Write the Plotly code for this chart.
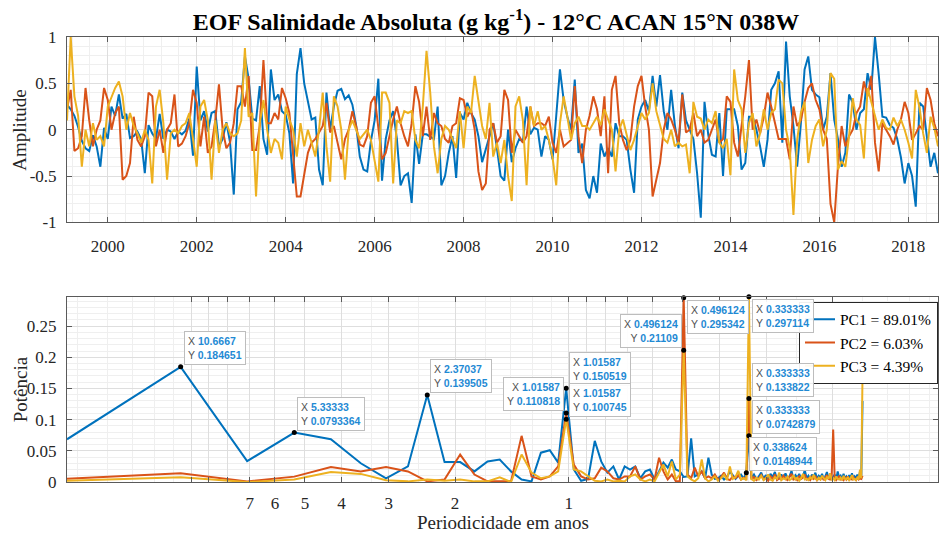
import numpy as np
import plotly.graph_objects as go

# ---------------- data ----------------
START_YEAR = 1999
START_MONTH = 2          # first monthly sample (Feb 1999)

pc1 = [0.27, 0.22, 0.15, 0.03, -0.12, -0.2, -0.23, -0.06, -0.18, -0.4,
       0.02, -0.1, 0.25, 0.15, 0.38, 0.12, 0.17, -0.09, -0.07, -0.02,
       -0.1, -0.47, 0.05, -0.04, -0.1, 0.17, -0.1, 0.0, -0.02, -0.1,
       -0.02, -0.05, -0.01, 0.12, -0.28, 0.68, 0.1, 0.2, -0.02, 0.18,
       0.2, -0.18, -0.1, 0.08, -0.14, -0.7, 0.22, 0.3, 0.79, 0.55,
       0.12, 0.1, 0.47, -0.1, -0.27, 0.65, 0.32, 0.38, 0.2, 0.16,
       -0.04, -0.58, 0.6, 0.88, 0.5, 0.3, 0.11, 0.13, -0.43, -0.6,
       0.4, 0.0, 0.25, 0.42, 0.44, 0.33, 0.37, 0.27, 0.05, -0.29,
       -0.43, -0.45, -0.12, 0.1, 0.55, -0.55, -0.1, 0.1, 0.2, -0.1,
       -0.6, -0.5, -0.47, -0.79, -0.05, -0.37, -0.05, -0.05, -0.08, -0.1,
       0.25, -0.6, -0.5, -0.25, -0.07, -0.52, 0.18, 0.11, 0.29, 0.18,
       0.11, -0.07, -0.35, -0.2, -0.07, 0.07, -0.2, -0.5, -0.55, 0.0,
       -0.35, -0.2, -0.1, -0.13, 0.25, -0.05, 0.02, 0.0, -0.29, -0.07,
       -0.11, -0.32, 0.15, 0.65, 0.32, 0.14, 0.0, 0.54, -0.25, -0.15,
       -0.65, -0.74, -0.5, -0.68, -0.15, -0.29, -0.2, -0.29, 0.07, -0.07,
       -0.07, -0.11, -0.43, -0.68, 0.11, 0.25, 0.32, 0.2, 0.58, 0.25,
       0.59, 0.2, 0.0, 0.43, 0.05, -0.2, 0.4, 0.1, 0.0, -0.1,
       -0.47, -0.95, 0.3, -0.05, -0.27, -0.29, 0.18, -0.5, 0.22, 0.22,
       0.22, 0.04, -0.43, -0.36, 0.14, 0.14, 0.0, -0.18, -0.4, -0.11,
       0.43, 0.5, 0.63, -0.14, 0.95, 0.36, 0.04, -0.4, 0.07, 0.65,
       0.79, 0.43, 0.38, 0.35, 0.0, 0.14, 0.61, 0.11, -0.1, -0.4,
       -0.25, 0.38, 0.29, 0.0, 0.18, 0.22, 0.61, 0.43, 1.0, 0.6,
       0.14, 0.13, 0.05, 0.02, -0.1, -0.3, -0.58, -0.36, -0.5, -0.83,
       0.29, 0.25, -0.1, -0.4, -0.25, -0.47]

pc2 = [0.22, 0.43, -0.23, -0.2, -0.07, 0.45, 0.1, -0.18, 0.0, 0.1,
       0.45, 0.32, 0.0, 0.18, 0.25, -0.54, -0.5, -0.36, 0.14, -0.11,
       -0.18, -0.07, 0.4, 0.36, -0.18, 0.0, -0.25, 0.0, 0.07, 0.38,
       -0.18, -0.15, -0.07, 0.07, 0.43, 0.29, -0.18, 0.14, -0.25, -0.18,
       0.1, 0.49, 0.0, -0.2, -0.14, 0.07, 0.47, 0.47, 0.25, 0.58,
       -0.22, -0.22, 0.04, 0.75, 0.07, 0.07, 0.18, 0.11, 0.45, 0.34,
       0.18, -0.29, -0.72, -0.72, -0.5, -0.25, -0.14, -0.1, -0.03, 0.04,
       0.29, -0.03, 0.04, -0.14, -0.32, -0.1, 0.0, 0.2, 0.04, -0.16,
       -0.18, -0.07, 0.29, 0.36, 0.0, -0.32, -0.25, -0.07, 0.11, 0.25,
       0.07, -0.07, -0.18, 0.07, 0.47, 0.3, -0.07, 0.25, -0.11, 0.18,
       0.07, 0.04, -0.1, -0.14, 0.04, 0.07, 0.34, 0.32, 0.14, 0.22,
       0.0, -0.45, -0.65, -0.58, 0.0, 0.07, -0.14, -0.07, 0.43, 0.32,
       -0.25, 0.0, -0.07, -0.14, -0.07, 0.25, 0.04, 0.07, 0.07, 0.04,
       0.14, -0.14, -0.25, 0.0, -0.18, -0.14, -0.11, 0.47, -0.07, -0.36,
       0.0, 0.15, 0.36, 0.22, -0.07, 0.36, -0.47, 0.43, 0.58, 0.07,
       -0.11, -0.22, -0.11, 0.25, 0.47, 0.58, 0.25, 0.0, -0.72, -0.54,
       -0.36, 0.0, 0.18, 0.11, 0.0, -0.14, 0.38, -0.03, 0.0, 0.18,
       -0.07, 0.0, -0.14, -0.11, 0.0, 0.11, -0.14, -0.1, 0.36, 0.3,
       -0.14, -0.29, 0.04, 0.36, 0.75, 0.0, 0.11, -0.04, 0.14, 0.4,
       0.25, 0.07, -0.1, -0.1, -0.1, -0.32, 0.25, 0.04, 0.1, 0.3,
       0.45, 0.5, 0.32, 0.22, 0.0, -0.1, -0.8, -1.0, -0.4, 0.04,
       -0.18, -0.07, 0.0, 0.18, 0.25, 0.52, 0.36, 0.58, -0.14, -0.45,
       0.07, 0.0, -0.07, -0.16, 0.0, 0.11, 0.3, 0.18, -0.11, -0.04,
       0.04, 0.0, 0.45, 0.32, 0.07, -0.07]

pc3 = [0.1, 1.0, 0.36, 0.15, -0.4, 0.0, -0.18, 0.07, -0.11, -0.07,
       -0.18, 0.25, 0.35, 0.45, 0.52, 0.36, 0.0, 0.18, 0.04, -0.04,
       -0.14, 0.0, -0.11, -0.58, 0.25, 0.43, 0.07, -0.54, -0.04, 0.0,
       -0.04, 0.04, 0.07, 0.18, -0.1, -0.4, 0.25, 0.32, 0.1, -0.54,
       0.1, -0.25, 0.0, 0.07, -0.04, -0.07, -0.04, 0.1, 0.88, 0.14,
       0.18, -0.72, 0.07, 0.32, 0.0, -0.25, -0.1, -0.14, -0.32, 0.25,
       0.11, 0.0, -0.29, 0.07, -0.18, 0.0, -0.14, -0.29, 0.0, 0.4,
       -0.18, -0.56, 0.36, 0.25, 0.0, -0.54, 0.0, 0.1, 0.0, -0.1,
       -0.05, 0.0, -0.11, -0.35, -0.56, 0.4, 0.4, 0.29, -0.58, 0.1,
       0.07, 0.2, 0.18, 0.2, -0.11, -0.2, 0.25, 0.85, 0.4, -0.18,
       -0.47, -0.1, 0.04, 0.0, -0.11, -0.2, 0.2, -0.2, 0.25, 0.18,
       0.58, 0.29, 0.04, -0.1, 0.29, -0.29, -0.14, -0.36, -0.11, -0.5,
       -0.77, 0.25, 0.36, 0.1, -0.6, 0.25, 0.04, 0.2, 0.0, 0.04,
       -0.11, -0.3, -0.6, 0.07, 0.36, 0.14, -0.11, 0.07, 0.14, 0.04,
       0.04, 0.0, 0.07, 0.14, 0.05, 0.22, 0.11, 0.0, -0.45, 0.0,
       0.11, -0.07, -0.22, -0.11, 0.04, 0.18, 0.11, 0.18, 0.5, 0.2,
       0.05, -0.1, -0.14, 0.0, -0.18, -0.14, -0.18, -0.16, -0.47, 0.3,
       0.14, 0.12, 0.0, 0.11, 0.07, 0.2, -0.14, -0.2, -0.1, -0.49,
       0.65, 0.32, 0.22, -0.25, 0.07, 0.18, -0.18, -0.04, 0.22, 0.0,
       0.18, 0.22, 0.54, 0.5, 0.0, -0.2, -0.92, -0.11, 0.18, 0.3,
       -0.36, -0.11, 0.04, 0.11, -0.18, 0.0, 0.61, 0.55, -0.43, -0.34,
       -0.4, -0.07, 0.34, 0.11, 0.05, -0.31, 0.45, 0.3, 0.14, 0.0,
       0.11, 0.02, 0.0, 0.13, 0.04, 0.11, 0.0, -0.14, -0.31, 0.43,
       0.24, -0.04, -0.25, 0.14, 0.02, -0.18]

# power spectra, one value per FFT bin j = 1..128 (NFFT = 256, monthly sampling)
NFFT = 256
FS = 12.0

psd1 = [0.0685, 0.184651, 0.0334, 0.0793364, 0.0685, 0.03, 0.006, 0.025, 0.139505, 0.032,
        0.032, 0.017, 0.033, 0.036, 0.017, 0.004, 0.001, 0.047, 0.051, 0.031,
        0.150519, 0.02, 0.002, 0.005, 0.066, 0.033, 0.015, 0.025, 0.004, 0.025,
        0.02, 0.025, 0.006, 0.017, 0.02, 0.004, 0.017, 0.031, 0.023, 0.036,
        0.02, 0.017, 0.008, 0.009, 0.07, 0.009, 0.012, 0.017, 0.006, 0.039,
        0.012, 0.005, 0.006, 0.01, 0.004, 0.008, 0.017, 0.01, 0.005, 0.01,
        0.012, 0.005, 0.0148944, 0.0742879, 0.006, 0.012, 0.004, 0.009, 0.015, 0.005,
        0.011, 0.003, 0.013, 0.008, 0.016, 0.004, 0.007, 0.012, 0.005, 0.014,
        0.006, 0.009, 0.018, 0.004, 0.011, 0.007, 0.013, 0.005, 0.009, 0.019,
        0.006, 0.01, 0.004, 0.012, 0.008, 0.015, 0.005, 0.01, 0.007, 0.013,
        0.004, 0.009, 0.016, 0.006, 0.011, 0.005, 0.008, 0.012, 0.004, 0.017,
        0.007, 0.01, 0.005, 0.013, 0.006, 0.009, 0.004, 0.011, 0.007, 0.014,
        0.005, 0.009, 0.006, 0.012, 0.004, 0.016, 0.008, 0.13]

psd2 = [0.0054, 0.014, 0.001, 0.0086, 0.024, 0.017, 0.024, 0.017, 0.001, 0.004,
        0.044, 0.012, 0.001, 0.001, 0.001, 0.074, 0.009, 0.004, 0.009, 0.025,
        0.110818, 0.028, 0.009, 0.004, 0.006, 0.023, 0.017, 0.006, 0.004, 0.009,
        0.009, 0.025, 0.004, 0.009, 0.012, 0.004, 0.039, 0.017, 0.004, 0.012,
        0.001, 0.001, 0.295342, 0.012, 0.006, 0.023, 0.009, 0.017, 0.006, 0.009,
        0.006, 0.012, 0.004, 0.008, 0.015, 0.005, 0.003, 0.009, 0.006, 0.011,
        0.004, 0.007, 0.005, 0.133822, 0.004, 0.008, 0.003, 0.006, 0.011, 0.004,
        0.007, 0.002, 0.009, 0.005, 0.012, 0.003, 0.006, 0.004, 0.01, 0.005,
        0.003, 0.008, 0.013, 0.004, 0.006, 0.003, 0.009, 0.005, 0.007, 0.012,
        0.004, 0.006, 0.003, 0.008, 0.005, 0.01, 0.003, 0.006, 0.004, 0.009,
        0.003, 0.007, 0.011, 0.005, 0.004, 0.008, 0.084, 0.006, 0.003, 0.006,
        0.01, 0.004, 0.005, 0.003, 0.007, 0.004, 0.009, 0.003, 0.006, 0.004,
        0.008, 0.005, 0.003, 0.007, 0.004, 0.006, 0.005, 0.01]

psd3 = [0.002, 0.0075, 0.0, 0.004, 0.016, 0.013, 0.003, 0.001, 0.004, 0.002,
        0.004, 0.001, 0.001, 0.0075, 0.0, 0.044, 0.015, 0.006, 0.009, 0.017,
        0.100745, 0.02, 0.017, 0.009, 0.002, 0.001, 0.004, 0.001, 0.002, 0.001,
        0.009, 0.012, 0.004, 0.001, 0.004, 0.001, 0.015, 0.028, 0.009, 0.033,
        0.004, 0.012, 0.21109, 0.009, 0.004, 0.001, 0.006, 0.036, 0.006, 0.001,
        0.004, 0.009, 0.002, 0.006, 0.012, 0.003, 0.025, 0.005, 0.008, 0.018,
        0.004, 0.006, 0.003, 0.297114, 0.005, 0.002, 0.007, 0.004, 0.01, 0.003,
        0.006, 0.012, 0.004, 0.002, 0.008, 0.005, 0.015, 0.003, 0.006, 0.004,
        0.009, 0.003, 0.005, 0.011, 0.004, 0.007, 0.002, 0.006, 0.013, 0.004,
        0.005, 0.003, 0.008, 0.004, 0.012, 0.005, 0.003, 0.007, 0.004, 0.01,
        0.006, 0.003, 0.008, 0.005, 0.014, 0.004, 0.006, 0.003, 0.009, 0.005,
        0.004, 0.007, 0.003, 0.01, 0.005, 0.004, 0.008, 0.003, 0.006, 0.011,
        0.004, 0.005, 0.003, 0.007, 0.004, 0.02, 0.006, 0.176]

series_names = ["PC1 = 89.01%", "PC2 = 6.03%", "PC3 = 4.39%"]
year_ticks = [2000, 2002, 2004, 2006, 2008, 2010, 2012, 2014, 2016, 2018]
amp_ticks = [-1, -0.5, 0, 0.5, 1]
amp_labels = ["-1", "-0.5", "0", "0.5", "1"]
pow_ticks = [0, 0.05, 0.1, 0.15, 0.2, 0.25]
pow_labels = ["0", "0.05", "0.1", "0.15", "0.2", "0.25"]
period_ticks = [10, 9, 8, 7, 6, 5, 4, 3, 2, 1, 0.9, 0.8, 0.7, 0.6, 0.5, 0.4, 0.3, 0.2]
period_labels = ["", "", "", "7", "6", "5", "4", "3", "2", "1",
                 "", "", "", "", "", "", "", ""]
# data tips: (series index, FFT bin j, box placement)
tips = [(0, 2, "ur"), (0, 4, "ur"), (0, 9, "ur"),
        (0, 21, "ur"), (1, 21, "ul"), (2, 21, "ur"),
        (2, 43, "ul"), (1, 43, "lr"),
        (2, 64, "lr"), (1, 64, "ur"), (0, 64, "ur"), (0, 63, "ur")]

# ---------------- derived axes ----------------
years = [START_YEAR + (START_MONTH - 1 + i) / 12.0 for i in range(len(pc1))]
freqs = [FS * j / NFFT for j in range(1, len(psd1) + 1)]
colors = ["#0072BD", "#D95319", "#EDB120"]
pcs = [pc1, pc2, pc3]
psds = [psd1, psd2, psd3]

SERIF = "Liberation Serif"
AXC = "#5a5a5a"
TXT = "#262626"
GRID = "#dedede"
MGRID = "#efefef"

fig = go.Figure()
for k in range(3):
    fig.add_trace(go.Scatter(x=years, y=pcs[k], mode="lines",
                             line=dict(color=colors[k], width=2),
                             xaxis="x", yaxis="y", showlegend=False,
                             hoverinfo="skip"))
for k in range(3):
    fig.add_trace(go.Scatter(x=freqs, y=psds[k], mode="lines",
                             line=dict(color=colors[k], width=2),
                             xaxis="x2", yaxis="y2", name=series_names[k],
                             showlegend=True, hoverinfo="skip"))

# data tip dots
tx = [freqs[j - 1] for (s, j, p) in tips]
ty = [psds[s][j - 1] for (s, j, p) in tips]
fig.add_trace(go.Scatter(x=tx, y=ty, mode="markers",
                         marker=dict(color="black", size=5),
                         xaxis="x2", yaxis="y2", showlegend=False,
                         cliponaxis=False, hoverinfo="skip"))

annotations = []
LAB = "#505050"
VAL = "#1f8ad4"
for (s, j, p) in tips:
    f = freqs[j - 1]
    v = psds[s][j - 1]
    txt = (f"<span style='color:{LAB}'>X</span> <b><span style='color:{VAL}'>{1.0 / f:.6g}</span></b><br>"
           f"<span style='color:{LAB}'>Y</span> <b><span style='color:{VAL}'>{v:.6g}</span></b>")
    if p == "ur":
        xa, ya, xs, ys, al = "left", "bottom", 3, 2, "left"
    elif p == "ul":
        xa, ya, xs, ys, al = "right", "bottom", -2, 2, "right"
    else:
        xa, ya, xs, ys, al = "left", "top", 3, -2, "left"
    annotations.append(dict(x=np.log10(f), y=v, xref="x2", yref="y2",
                            text=txt, showarrow=False, xanchor=xa, yanchor=ya,
                            xshift=xs, yshift=ys, align=al,
                            font=dict(family="Liberation Sans", size=10.5),
                            bgcolor="rgba(255,255,255,0.92)",
                            bordercolor="#bdbdbd", borderwidth=1, borderpad=3))

# axis labels
annotations += [
    dict(text="Amplitude", x=-0.054, y=0.7917, xref="paper", yref="paper",
         textangle=-90, showarrow=False, xanchor="center", yanchor="middle",
         font=dict(family=SERIF, size=19, color=TXT)),
    dict(text="Potência", x=-0.054, y=0.2082, xref="paper", yref="paper",
         textangle=-90, showarrow=False, xanchor="center", yanchor="middle",
         font=dict(family=SERIF, size=19, color=TXT)),
    dict(text="Periodicidade em anos", x=0.5, y=-0.091, xref="paper", yref="paper",
         showarrow=False, xanchor="center", yanchor="middle",
         font=dict(family=SERIF, size=19, color=TXT)),
]

common = dict(showline=True, linecolor=AXC, linewidth=1, mirror="ticks",
              ticks="inside", ticklen=5, tickcolor=AXC, tickwidth=1,
              showgrid=True, gridcolor=GRID, gridwidth=1, zeroline=False,
              tickfont=dict(family=SERIF, size=17, color=TXT))

fig.update_layout(
    width=939, height=536,
    margin=dict(l=67, r=1, t=37, b=54),
    paper_bgcolor="white", plot_bgcolor="white",
    title=dict(text="<b>EOF Salinidade Absoluta (g kg<sup>-1</sup>) - 12°C ACAN 15°N 038W</b>",
               x=496 / 939, xref="container", xanchor="center",
               y=1 - 22 / 536, yref="container", yanchor="middle",
               font=dict(family=SERIF, size=24, color="black")),
    xaxis=dict(domain=[0, 1], anchor="y", range=[years[0], years[-1]],
               tickmode="array", tickvals=year_ticks,
               ticktext=[str(y) for y in year_ticks], ticklabelstandoff=8,
               minor=dict(tickmode="linear", tick0=2000, dtick=0.4,
                          showgrid=True, gridcolor=MGRID, ticks=""),
               **common),
    yaxis=dict(domain=[0.5834, 1], anchor="x", range=[-1, 1],
               tickmode="array", tickvals=amp_ticks, ticktext=amp_labels,
               ticklabelstandoff=6,
               minor=dict(tickmode="linear", tick0=0, dtick=0.1,
                          showgrid=True, gridcolor=MGRID, ticks=""),
               **common),
    xaxis2=dict(domain=[0, 1], anchor="y2", type="log",
                range=[np.log10(freqs[0]), 0.978],
                tickmode="array", tickvals=[1.0 / p for p in period_ticks],
                ticktext=period_labels, ticklabelstandoff=6,
                minor=dict(tickmode="array",
                           tickvals=[0.05, 0.06, 0.07, 0.08, 0.09,
                                     0.3, 0.4, 0.6, 0.7, 0.8, 0.9,
                                     3, 4, 6, 7, 8, 9],
                           showgrid=True, gridcolor=MGRID, ticks=""),
                **common),
    yaxis2=dict(domain=[0, 0.4164], anchor="x2", range=[0, max(psd3)],
                tickmode="array", tickvals=pow_ticks, ticktext=pow_labels,
                ticklabelstandoff=6,
                minor=dict(tickmode="linear", tick0=0, dtick=0.01,
                           showgrid=True, gridcolor=MGRID, ticks=""),
                **common),
    legend=dict(x=1.0, xanchor="right", y=0.405, yanchor="top",
                bgcolor="white", bordercolor="#262626", borderwidth=1,
                font=dict(family=SERIF, size=15.5, color="black"),
                tracegroupgap=0),
    annotations=annotations,
    showlegend=True,
)

fig.write_html("out.html",
               config={"displayModeBar": False},
               post_script="document.body.style.margin='0';document.body.style.overflow='hidden';")
